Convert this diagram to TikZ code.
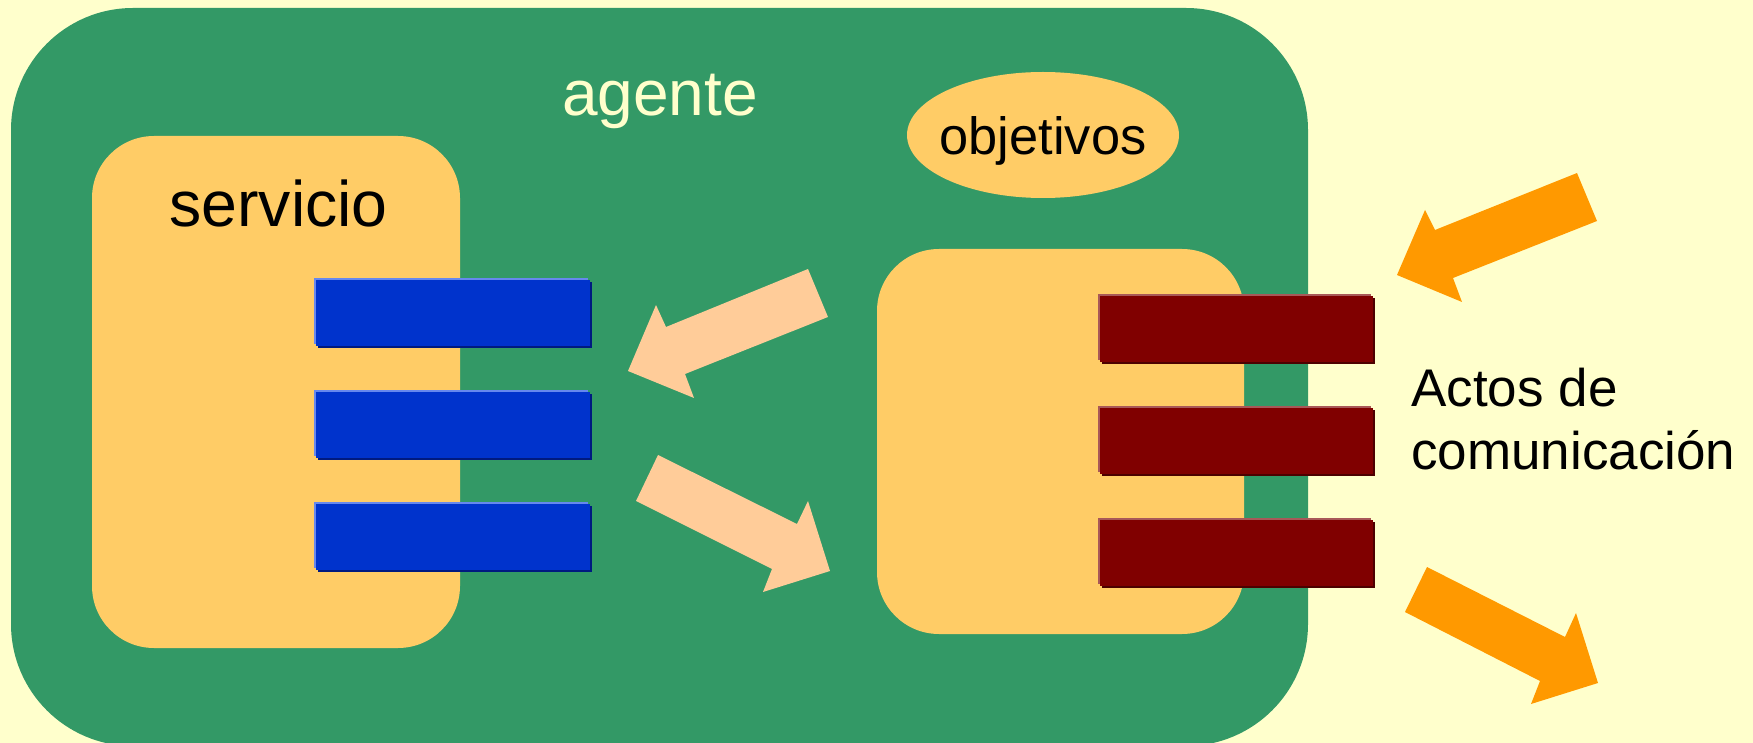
\documentclass[tikz,border=0pt]{standalone}
\usepackage{fontspec}
\setmainfont{Liberation Sans}
\definecolor{bg}{HTML}{FFFFCC}
\definecolor{agentgreen}{HTML}{339966}
\definecolor{boxyellow}{HTML}{FFCC66}
\definecolor{peach}{HTML}{FFCC99}
\definecolor{orangearrow}{HTML}{FF9900}
\definecolor{barblue}{HTML}{0033CC}
\definecolor{barbluelight}{HTML}{6688EE}
\definecolor{barbluedark}{HTML}{001A80}
\definecolor{barred}{HTML}{800000}
\definecolor{barredlight}{HTML}{A85858}
\definecolor{barreddark}{HTML}{4D0000}
\tikzset{
  agentbox/.style={fill=agentgreen, rounded corners=61pt},
  innerbox/.style={fill=boxyellow, rounded corners=31pt},
  lbl/.style={inner sep=0pt, anchor=base, text=black},
  peacharrow/.style={fill=peach},
  orangeblock/.style={fill=orangearrow},
}
\begin{document}
\begin{tikzpicture}[x=0.5pt,y=-0.5pt]
\fill[bg] (0,0) rectangle (1753,743);
\useasboundingbox (0,0) rectangle (1753,743);
% agent
\coordinate (agentNW) at (11,8);
\coordinate (agentSE) at (1308,746);
\path[agentbox] (agentNW) rectangle (agentSE);
% service box
\coordinate (servNW) at (92,136);
\coordinate (servSE) at (460,648);
\path[innerbox] (servNW) rectangle (servSE);
% communication box
\coordinate (commNW) at (877,249);
\coordinate (commSE) at (1244,634);
\path[innerbox] (commNW) rectangle (commSE);
% goals
\fill[boxyellow] (1043,135) ellipse [x radius=68pt, y radius=31.5pt];
% labels
\node[lbl, text=bg, font=\fontsize{32}{38}\selectfont] (agente) at (660,116) {agente};
\node[lbl, font=\fontsize{32.2}{38}\selectfont] (servicio) at (278.5,227) {servicio};
\node[lbl, font=\fontsize{26.2}{31}\selectfont] (objetivos) at (1043,155) {objetivos};
\node[lbl, anchor=base west, font=\fontsize{26.5}{31}\selectfont] (actos) at (1411,407) {Actos de};
\node[lbl, anchor=base west, font=\fontsize{26.5}{31}\selectfont] (comunicacion) at (1411,470) {comunicación};
% blue bars
\foreach \t in {278,390,502}{
  \fill[barbluedark] (318,\t+4) rectangle (592,\t+70);
  \fill[barbluelight] (314,\t) rectangle (588,\t+66);
  \fill[barblue] (316,\t+2) rectangle (590,\t+68);
}
% red bars
\foreach \t in {294,406,518}{
  \fill[barreddark] (1102,\t+4) rectangle (1375,\t+70);
  \fill[barredlight] (1098,\t) rectangle (1371,\t+66);
  \fill[barred] (1100,\t+2) rectangle (1373,\t+68);
}
% peach block arrows
\fill[peacharrow] (808,269) -- (828,317) -- (685,374) -- (694,398) -- (628,371) -- (656,305) -- (666,327) -- cycle;
\fill[peacharrow] (658,455) -- (797,524) -- (808,501) -- (830,571) -- (763,592) -- (772,569) -- (636,501) -- cycle;
% orange block arrows
\fill[orangeblock] (1577,173) -- (1597,221) -- (1453,278) -- (1462,302) -- (1397,275) -- (1425,210) -- (1435,230) -- cycle;
\fill[orangeblock] (1427,567) -- (1565,637) -- (1576,613) -- (1598,683) -- (1531,704) -- (1540,681) -- (1405,612) -- cycle;
\end{tikzpicture}
\end{document}
